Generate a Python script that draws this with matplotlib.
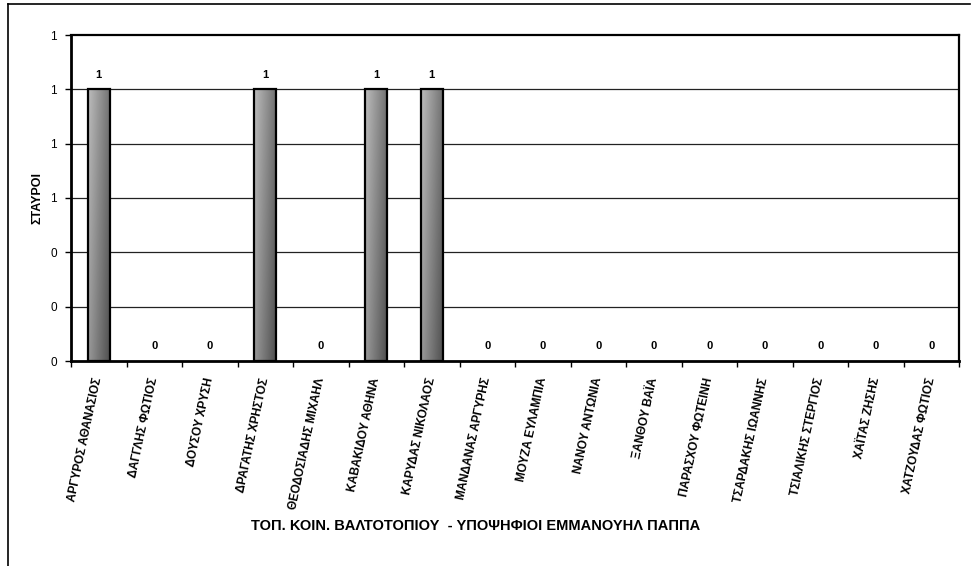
import matplotlib
matplotlib.use("Agg")
import matplotlib.pyplot as plt
import numpy as np
from matplotlib.patches import Rectangle
from matplotlib.lines import Line2D
from matplotlib.ticker import FormatStrFormatter, FixedLocator

plt.rcParams['font.family'] = ['Liberation Sans', 'DejaVu Sans']

candidates = [
    "ΑΡΓΥΡΟΣ ΑΘΑΝΑΣΙΟΣ", "ΔΑΓΓΛΗΣ ΦΩΤΙΟΣ", "ΔΟΥΣΟΥ ΧΡΥΣΗ", "ΔΡΑΓΑΤΗΣ ΧΡΗΣΤΟΣ",
    "ΘΕΟΔΟΣΙΑΔΗΣ ΜΙΧΑΗΛ", "ΚΑΒΑΚΙΔΟΥ ΑΘΗΝΑ", "ΚΑΡΥΔΑΣ ΝΙΚΟΛΑΟΣ", "ΜΑΝΔΑΝΑΣ ΑΡΓΥΡΗΣ",
    "ΜΟΥΖΑ ΕΥΛΑΜΠΙΑ", "ΝΑΝΟΥ ΑΝΤΩΝΙΑ", "ΞΑΝΘΟΥ ΒΑΪΑ", "ΠΑΡΑΣΧΟΥ ΦΩΤΕΙΝΗ",
    "ΤΣΑΡΔΑΚΗΣ ΙΩΑΝΝΗΣ", "ΤΣΙΑΛΙΚΗΣ ΣΤΕΡΓΙΟΣ", "ΧΑΪΤΑΣ ΖΗΣΗΣ", "ΧΑΤΖΟΥΔΑΣ ΦΩΤΙΟΣ",
]
votes = [1, 0, 0, 1, 0, 1, 1, 0, 0, 0, 0, 0, 0, 0, 0, 0]
y_ticks = [0, 0.2, 0.4, 0.6, 0.8, 1.0, 1.2]
x_title = "ΤΟΠ. ΚΟΙΝ. ΒΑΛΤΟΤΟΠΙΟΥ  - ΥΠΟΨΗΦΙΟΙ ΕΜΜΑΝΟΥΗΛ ΠΑΠΠΑ"
y_title = "ΣΤΑΥΡΟΙ"

fig = plt.figure(figsize=(9.76, 5.66), dpi=100)
ax = fig.add_axes([71/976, 1 - 361/566, (959-71)/976, (361-35)/566])

n = len(candidates)
x = np.arange(n)
bw = 0.4
ax.set_xlim(-0.5, n - 0.5)
ax.set_ylim(y_ticks[0], y_ticks[-1])

# gridlines
for t in y_ticks[1:-1]:
    ax.axhline(t, color='#222222', lw=0.9, zorder=1)

# gradient image
gx = np.linspace(0, 1, 50)
gy = np.linspace(0, 1, 200)
GX, GY = np.meshgrid(gx, gy)
grad = 0.74 - 0.30 * GX - 0.14 * GY
for xi, v in zip(x, votes):
    if v > 0:
        im = ax.imshow(grad, cmap='gray', vmin=0, vmax=1, origin='upper',
                       extent=[xi - bw/2, xi + bw/2, 0, v], aspect='auto',
                       zorder=2, interpolation='bilinear')
        rect = Rectangle((xi - bw/2, 0), bw, v, facecolor='none',
                         edgecolor='black', lw=1.6, zorder=3)
        ax.add_patch(rect)
        im.set_clip_path(rect)
    ax.annotate(str(v), (xi, v), xytext=(0, 7), textcoords='offset points',
                ha='center', va='bottom', fontsize=8, fontweight='bold')

ax.set_xlim(-0.5, n - 0.5)
ax.set_ylim(y_ticks[0], y_ticks[-1])

ax.yaxis.set_major_locator(FixedLocator(y_ticks))
ax.yaxis.set_major_formatter(FormatStrFormatter('%.0f'))
ax.tick_params(axis='y', direction='out', length=4, width=1, labelsize=8.5, pad=6)

ax.set_xticks(x)
ax.set_xticklabels(candidates, rotation=78, ha='right', va='center',
                   rotation_mode='anchor', fontsize=8.5, fontweight='bold')
ax.set_xticks(np.arange(-0.5, n, 1), minor=True)
ax.tick_params(axis='x', which='major', length=0, pad=12)
ax.tick_params(axis='x', which='minor', direction='out', length=4, width=1)

for side in ['left', 'bottom']:
    ax.spines[side].set_linewidth(2.0)
for side in ['top', 'right']:
    ax.spines[side].set_linewidth(1.6)
for s in ax.spines.values():
    s.set_zorder(4)

ax.set_ylabel(y_title, fontsize=9, fontweight='bold', labelpad=5)
fig.text(476/976, 1 - 526/566, x_title, ha='center', va='center',
         fontsize=10.5, fontweight='bold')

# outer frame (left and top edges)
fig.add_artist(Line2D([8/976, 8/976], [0, 1 - 4/566], color='black', lw=1.2,
                      transform=fig.transFigure))
fig.add_artist(Line2D([8/976, 970/976], [1 - 4/566, 1 - 4/566], color='black', lw=1.2,
                      transform=fig.transFigure))

fig.savefig("out.png", dpi=100)
